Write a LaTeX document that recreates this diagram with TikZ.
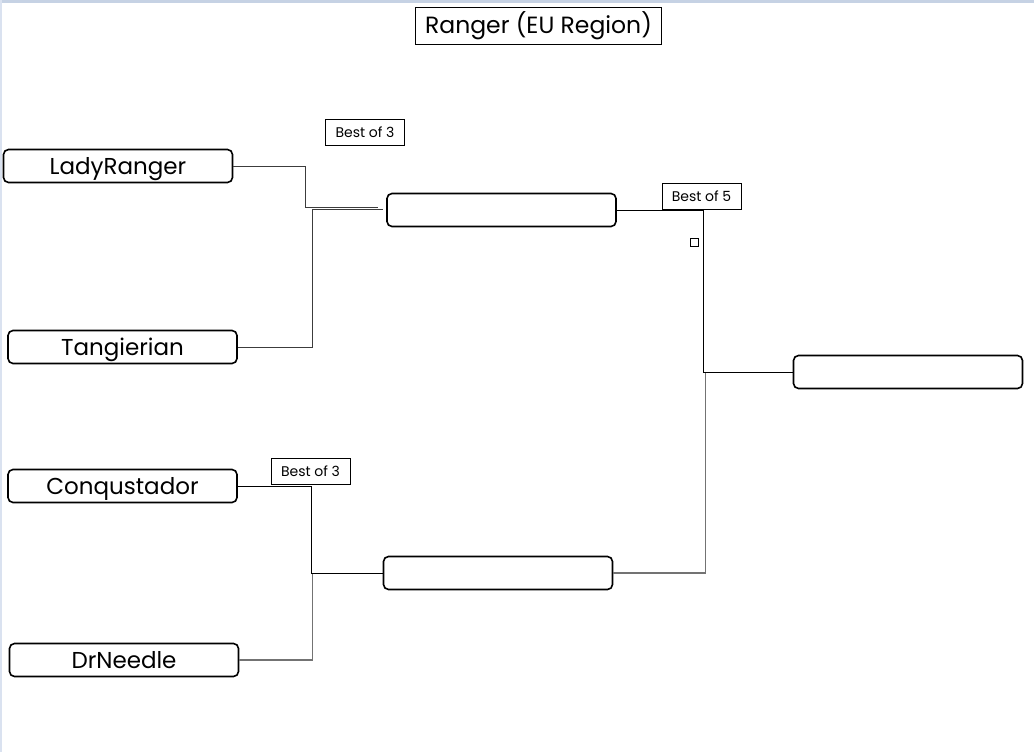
\documentclass[tikz,border=0pt]{standalone}
\usepackage{fontspec}
\setmainfont{Poppins}
\definecolor{bandtop}{RGB}{198,210,228}
\definecolor{bandleft}{RGB}{218,226,240}
\definecolor{lgray}{RGB}{115,115,115}
\definecolor{dgray}{RGB}{60,60,60}
\begin{document}
\begin{tikzpicture}[x=1pt,y=-1pt,
  player/.style={draw=black, line width=1.6pt, rounded corners=5pt, fill=white,
    minimum width=229pt, minimum height=33pt, inner sep=0pt,
    text height=16pt, text depth=0pt, font=\fontsize{23}{26}\selectfont},
  tag/.style={draw=black, line width=0.8pt, fill=white, inner sep=0pt,
    minimum width=79pt, minimum height=26pt,
    text height=10pt, text depth=0pt, font=\fontsize{14}{16}\selectfont},
  conn/.style={draw=black, line width=1pt},
  conng/.style={draw=lgray, line width=1.5pt},
]
\useasboundingbox (0,0) rectangle (1034,752);
\fill[white] (0,0) rectangle (1034,752);
\fill[bandtop] (0,0) rectangle (1034,3);
\fill[bandleft] (0,0) rectangle (2,752);

% title
\node[draw=black, line width=0.9pt, inner sep=0pt, minimum width=246pt, minimum height=37pt,
  text height=16pt, text depth=0pt, font=\fontsize{23.5}{26}\selectfont] (title) at (538.5,26) {Ranger (EU Region)};

% players
\node[player] (lr) at (118,166) {LadyRanger};
\node[player] (tg) at (122.5,347) {Tangierian};
\node[player] (cq) at (122.5,486) {Conqustador};
\node[player] (dn) at (124,660) {DrNeedle};

% later rounds
\node[player] (s1) at (501.5,210) {};
\node[player] (s2) at (498,573) {};
\node[player] (fin) at (908,372) {};

% junction coordinates
\coordinate (j1) at (305.5,207);
\coordinate (j1e) at (378,207);
\coordinate (j2) at (312,209.5);
\coordinate (j2e) at (383,209.5);
\coordinate (j3) at (311,573);
\coordinate (j4) at (312.5,574);
\coordinate (f1) at (703,372);
\coordinate (f2) at (705.5,373);

% connectors
\draw[conn, draw=dgray] (lr.east) -| (j1) -- (j1e);
\draw[conn, draw=dgray] (tg.east) -| (j2) -- (j2e);
\draw[conn] (cq.east) -| (j3) -- (s2.west);
\draw[conng] (dn.east) -| (j4);
\draw[conn] (s1.east) -| (f1) -- (fin.west);
\draw[conng] (s2.east) -| (f2);

% tags
\node[tag] (t1) at (365,132.5) {Best of 3};
\node[tag] (t2) at (701.5,196.5) {Best of 5};
\node[tag] (t3) at (310.5,471.5) {Best of 3};
\node[draw=black, line width=0.8pt, inner sep=0pt, minimum size=8pt] (sq) at (694.5,242.5) {};
\end{tikzpicture}
\end{document}
